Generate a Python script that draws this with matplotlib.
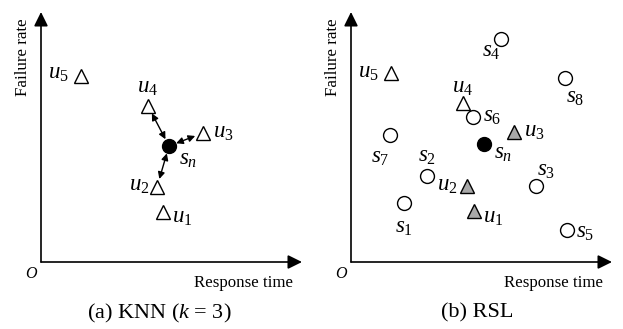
import matplotlib
matplotlib.use('Agg')
import matplotlib.pyplot as plt

plt.rcParams['font.family'] = 'Liberation Serif'
plt.rcParams['mathtext.fontset'] = 'custom'
plt.rcParams['mathtext.rm'] = 'Liberation Serif'
plt.rcParams['mathtext.it'] = 'Liberation Serif:italic'

# (a) KNN: users (triangles) and the new service s_n
knn_users = ['u_1', 'u_2', 'u_3', 'u_4', 'u_5']
knn_ux = [4.88, 4.64, 6.48, 4.28, 1.60]
knn_uy = [2.00, 3.00, 5.16, 6.24, 7.44]
knn_sn = (5.12, 4.64)
knn_neighbors = ['u_2', 'u_3', 'u_4']

# (b) RSL: users, services and the new service s_n
rsl_users = ['u_1', 'u_2', 'u_3', 'u_4', 'u_5']
rsl_ux = [4.92, 4.64, 6.52, 4.48, 1.60]
rsl_uy = [2.04, 3.04, 5.20, 6.36, 7.56]
rsl_selected = ['u_1', 'u_2', 'u_3']
rsl_services = ['s_1', 's_2', 's_3', 's_4', 's_5', 's_6', 's_7', 's_8']
rsl_sx = [2.12, 3.04, 7.40, 6.00, 8.64, 4.88, 1.56, 8.56]
rsl_sy = [2.36, 3.44, 3.04, 8.92, 1.28, 5.80, 5.08, 7.36]
rsl_sn = (5.32, 4.72)

# label offsets in points (dx, dy)
knn_uoff = {'u_1': (14, -4), 'u_2': (-13, 1), 'u_3': (15, 0), 'u_4': (0, 13), 'u_5': (-16, 2)}
rsl_uoff = {'u_1': (14, -5), 'u_2': (-14, 0), 'u_3': (15, 0), 'u_4': (0, 11), 'u_5': (-16, 0)}
rsl_soff = {'s_1': (0, -18), 's_2': (0, 14), 's_3': (7, 11), 's_4': (-7, -9),
            's_5': (13, -2), 's_6': (14, 0), 's_7': (-7, -16), 's_8': (7, -14)}

W, H = 623, 329
fig = plt.figure(figsize=(W / 100, H / 100), dpi=100)


def make_axes(x0):
    # origin of the drawn axes is at pixel (x0, 262), 25 px per unit
    ax = fig.add_axes([x0 / W, (H - 262) / H, 261 / W, 250 / H])
    ax.set_xlim(0, 10.44)
    ax.set_ylim(0, 10)
    ax.axis('off')
    ap = dict(arrowstyle='-|>,head_length=0.85,head_width=0.42', color='black',
              lw=1.2, shrinkA=0, shrinkB=0)
    ax.annotate('', xy=(10.44, 0), xytext=(0, 0), arrowprops=ap, annotation_clip=False)
    ax.annotate('', xy=(0, 10), xytext=(0, 0), arrowprops=ap, annotation_clip=False)
    ax.text(-0.4, -0.5, 'O', style='italic', fontsize=11.5, ha='center', va='center')
    ax.text(10.1, -0.85, 'Response time', fontsize=12.2, ha='right', va='center')
    ax.text(-0.72, 8.2, 'Failure rate', fontsize=12.2, rotation=90, ha='center', va='center')
    return ax


# ---- (a) KNN
ax1 = make_axes(41)
ax1.plot(knn_ux, knn_uy, '^', ms=10.5, mfc='white', mec='black', mew=1.0)
ax1.plot(*knn_sn, 'o', ms=10, color='black')
for name, x, y in zip(knn_users, knn_ux, knn_uy):
    ax1.annotate('$' + name + '$', (x, y), xytext=knn_uoff[name], textcoords='offset points',
                 fontsize=16.5, ha='center', va='center')
    if name in knn_neighbors:
        ax1.annotate('', xy=knn_sn, xytext=(x, y),
                     arrowprops=dict(arrowstyle='<|-|>,head_length=0.4,head_width=0.2',
                                     color='black', lw=1.0, shrinkA=6, shrinkB=5.5))
ax1.annotate('$s_n$', knn_sn, xytext=(14, -10), textcoords='offset points',
             fontsize=16.5, ha='center', va='center')
ax1.text(4.72, -2.05, '(a) KNN ($k$ = 3)', fontsize=16, ha='center', va='center')

# ---- (b) RSL
ax2 = make_axes(351)
for name, x, y in zip(rsl_users, rsl_ux, rsl_uy):
    fc = '#a8a8a8' if name in rsl_selected else 'white'
    ax2.plot(x, y, '^', ms=10.5, mfc=fc, mec='black', mew=1.0)
    ax2.annotate('$' + name + '$', (x, y), xytext=rsl_uoff[name], textcoords='offset points',
                 fontsize=16.5, ha='center', va='center')
ax2.plot(rsl_sx, rsl_sy, 'o', ms=10, mfc='white', mec='black', mew=1.0)
for name, x, y in zip(rsl_services, rsl_sx, rsl_sy):
    ax2.annotate('$' + name + '$', (x, y), xytext=rsl_soff[name], textcoords='offset points',
                 fontsize=16.5, ha='center', va='center')
ax2.plot(*rsl_sn, 'o', ms=10, color='black')
ax2.annotate('$s_n$', rsl_sn, xytext=(14, -7), textcoords='offset points',
             fontsize=16.5, ha='center', va='center')
ax2.text(5.04, -2.05, '(b) RSL', fontsize=16, ha='center', va='center')

fig.savefig('out.png', dpi=100)
